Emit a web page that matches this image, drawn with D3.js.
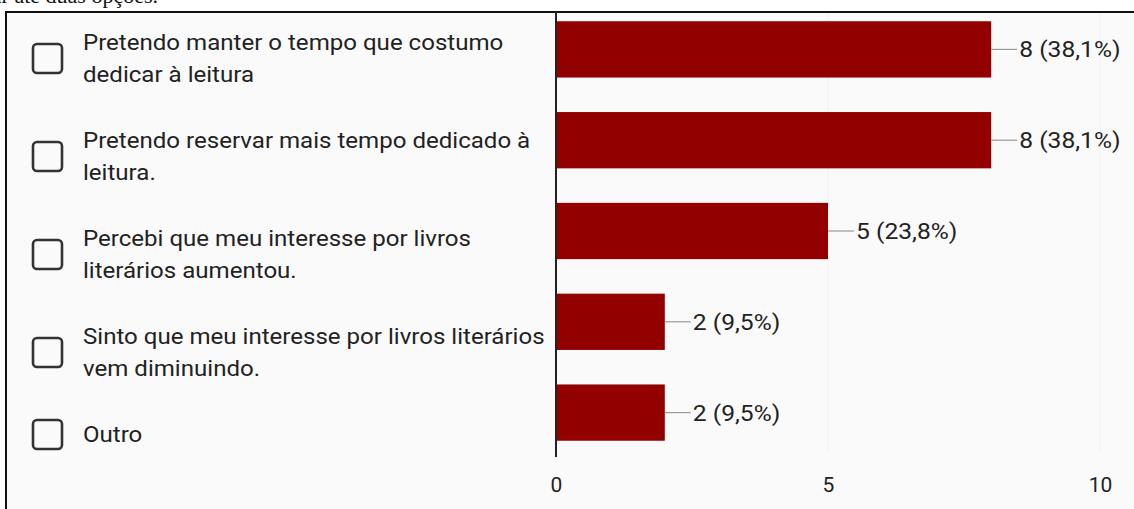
<!DOCTYPE html>
<html>
<head>
<meta charset="utf-8">
<script src="https://cdn.jsdelivr.net/npm/d3@7"></script>
<style>
  html, body { margin: 0; padding: 0; background: #fff; }
  svg { display: block; }
</style>
</head>
<body>
<div class="chart"></div>
<script>
// respostas (uma linha por quebra de texto)
const categories = [
  ["Pretendo manter o tempo que costumo", "dedicar à leitura"],
  ["Pretendo reservar mais tempo dedicado à", "leitura."],
  ["Percebi que meu interesse por livros", "literários aumentou."],
  ["Sinto que meu interesse por livros literários", "vem diminuindo."],
  ["Outro"]
]
const counts = [8, 8, 5, 2, 2]
const percents = ["38,1%", "38,1%", "23,8%", "9,5%", "9,5%"]
const ticks = [0, 5, 10]

let width = 1134,
    height = 509
let svg = d3.select(".chart")
    .append("svg")
    .attr("width", width)
    .attr("height", height)

const font = "Roboto, 'Noto Sans', sans-serif"
const textColor = "#222"
const sx = 1.12 // esticamento horizontal do print

// texto cortado no topo
svg.append("text")
    .attr("x", 158)
    .attr("y", 3)
    .attr("text-anchor", "end")
    .attr("font-family", "'Liberation Serif', 'DejaVu Serif', serif")
    .attr("font-size", 22)
    .attr("fill", "#111")
    .text("Você pode assinalar até duas opções.")

// moldura
svg.append("rect")
    .attr("x", 6)
    .attr("y", 12)
    .attr("width", width + 10)
    .attr("height", height + 10)
    .attr("fill", "#fafafa")
    .attr("stroke", "#111")
    .attr("stroke-width", 2)

let x = d3.scaleLinear().domain([0, 10]).range([556, 1100])
let y = d3.scaleBand()
    .domain(d3.range(counts.length))
    .range([4, 458])
    .paddingInner(0.38)
    .paddingOuter(0.19)

// grade leve
svg.append("g").selectAll("line")
    .data(ticks.slice(1))
    .enter()
    .append("line")
    .attr("x1", d => x(d))
    .attr("x2", d => x(d))
    .attr("y1", 13)
    .attr("y2", 453)
    .attr("stroke", "#f1f1f1")
    .attr("stroke-width", 1)

// barras
svg.append("g").selectAll("rect")
    .data(counts)
    .enter()
    .append("rect")
    .attr("x", x(0))
    .attr("y", (d, i) => y(i))
    .attr("width", d => x(d) - x(0))
    .attr("height", y.bandwidth())
    .attr("fill", "#920000")

// rótulos de valor com linha guia
let valG = svg.append("g")
counts.forEach((d, i) => {
    let cy = y(i) + y.bandwidth() / 2
    valG.append("line")
        .attr("x1", x(d))
        .attr("x2", x(d) + 26)
        .attr("y1", cy)
        .attr("y2", cy)
        .attr("stroke", "#999")
        .attr("stroke-width", 1.2)
    valG.append("text")
        .attr("transform", `translate(${x(d) + 28},${cy + 8}) scale(${sx},1)`)
        .attr("font-family", font)
        .attr("font-size", 22)
        .attr("fill", textColor)
        .text(`${d} (${percents[i]})`)
})

// eixo x
let xAxis = d3.axisBottom(x).tickValues(ticks).tickSize(0).tickPadding(19)
let axG = svg.append("g")
    .attr("transform", `translate(0,${458})`)
    .call(xAxis)
axG.select(".domain").remove()
axG.selectAll("text")
    .attr("font-family", font)
    .attr("font-size", 21)
    .attr("fill", textColor)

// linha do eixo (zero)
svg.append("line")
    .attr("x1", x(0))
    .attr("x2", x(0))
    .attr("y1", 12)
    .attr("y2", 457)
    .attr("stroke", "#222")
    .attr("stroke-width", 2)

// lista de opções com caixas de seleção
let lineH = 32, gap = 34
let rowTop = 26
let optG = svg.append("g")
categories.forEach((lines, i) => {
    let h = lines.length * lineH
    let cy = rowTop + h / 2
    optG.append("rect")
        .attr("x", 33)
        .attr("y", cy - 14)
        .attr("width", 29)
        .attr("height", 29)
        .attr("rx", 4)
        .attr("fill", "none")
        .attr("stroke", "#333")
        .attr("stroke-width", 2.6)
    lines.forEach((t, j) => {
        optG.append("text")
            .attr("transform", `translate(83,${rowTop + lineH * j + lineH / 2 + 8}) scale(${sx},1)`)
            .attr("font-family", font)
            .attr("font-size", 21.5)
            .attr("fill", textColor)
            .text(t)
    })
    rowTop += h + gap
})
</script>
</body>
</html>
